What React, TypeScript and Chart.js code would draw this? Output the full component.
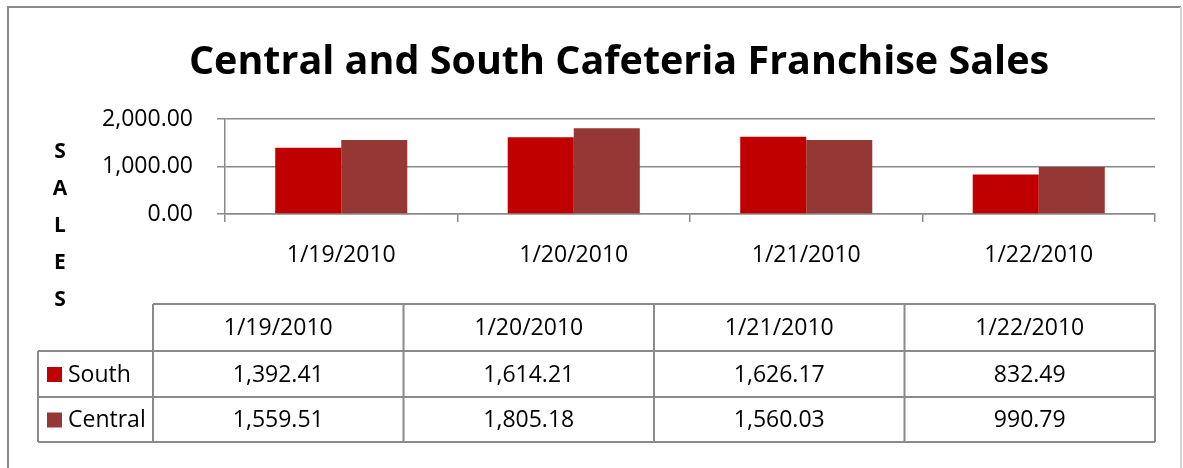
import React, { useEffect, useRef } from 'react';
import { Chart, registerables } from 'chart.js';

Chart.register(...registerables);

const chartTitle = 'Central and South Cafeteria Franchise Sales';
const axisTitleLetters = ['S', 'A', 'L', 'E', 'S'];
const categories = ['1/19/2010', '1/20/2010', '1/21/2010', '1/22/2010'];
const seriesNames = ['South', 'Central'];
const southValues = [1392.41, 1614.21, 1626.17, 832.49];
const centralValues = [1559.51, 1805.18, 1560.03, 990.79];
const yTickValues = [0, 1000, 2000];
const seriesColors = ['#C00000', '#953735'];

const FONT = '"Open Sans", "Noto Sans", sans-serif';
const GRAY = '#8a8a8a';
const fmt = (v: number) =>
  v.toLocaleString('en-US', { minimumFractionDigits: 2, maximumFractionDigits: 2 });

const decorPlugin = {
  id: 'decor',
  afterDraw(chart: any) {
    const ctx = chart.ctx as CanvasRenderingContext2D;
    const area = chart.chartArea;
    ctx.save();

    // chart frame
    ctx.lineWidth = 2;
    ctx.strokeStyle = GRAY;
    ctx.beginPath();
    ctx.moveTo(8, 480);
    ctx.lineTo(8, 7);
    ctx.lineTo(1181, 7);
    ctx.stroke();
    ctx.strokeStyle = '#d4d4d4';
    ctx.beginPath();
    ctx.moveTo(1181, 7);
    ctx.lineTo(1181, 480);
    ctx.stroke();

    // title
    ctx.fillStyle = '#000';
    ctx.textAlign = 'center';
    ctx.textBaseline = 'alphabetic';
    ctx.font = `bold 39.5px ${FONT}`;
    ctx.fillText(chartTitle, 619, 74);

    // vertical axis title
    ctx.font = `bold 21px ${FONT}`;
    ctx.textBaseline = 'middle';
    axisTitleLetters.forEach((ch, i) => ctx.fillText(ch, 60, 152 + i * 37));

    // data table
    const tLeft = 153;
    const tRight = area.right;
    const legLeft = 38;
    const colW = (tRight - tLeft) / categories.length;
    const rows = [304, 351, 397, 442];
    ctx.strokeStyle = GRAY;
    ctx.lineWidth = 2;
    ctx.beginPath();
    ctx.moveTo(tLeft, rows[0]);
    ctx.lineTo(tRight, rows[0]);
    for (let r = 1; r < rows.length; r++) {
      ctx.moveTo(legLeft, rows[r]);
      ctx.lineTo(tRight, rows[r]);
    }
    for (let c = 0; c <= categories.length; c++) {
      const x = tLeft + c * colW;
      ctx.moveTo(x, rows[0]);
      ctx.lineTo(x, rows[rows.length - 1]);
    }
    ctx.moveTo(legLeft, rows[1]);
    ctx.lineTo(legLeft, rows[rows.length - 1]);
    ctx.stroke();

    ctx.font = `23px ${FONT}`;
    ctx.fillStyle = '#000';
    ctx.textAlign = 'center';
    ctx.textBaseline = 'middle';
    categories.forEach((c, i) => {
      ctx.fillText(c, tLeft + (i + 0.5) * colW, (rows[0] + rows[1]) / 2 + 1);
    });
    const seriesData = chart.data.datasets.map((d: any) => d.data as number[]);
    seriesData.forEach((vals: number[], s: number) => {
      const cy = (rows[s + 1] + rows[s + 2]) / 2 + 1;
      vals.forEach((v, i) => {
        ctx.fillText(fmt(v), tLeft + (i + 0.5) * colW, cy);
      });
      ctx.fillStyle = seriesColors[s];
      ctx.fillRect(47, cy - 8, 15, 15);
      ctx.fillStyle = '#000';
      ctx.textAlign = 'left';
      ctx.fillText(seriesNames[s], 68, cy);
      ctx.textAlign = 'center';
    });

    ctx.restore();
  },
};

export default function App() {
  const canvasRef = useRef<HTMLCanvasElement | null>(null);

  useEffect(() => {
    const canvas = canvasRef.current;
    if (!canvas) return;
    const chart = new Chart(canvas, {
      type: 'bar',
      data: {
        labels: categories,
        datasets: [
          {
            label: seriesNames[0],
            data: southValues,
            backgroundColor: seriesColors[0],
            barPercentage: 1,
            categoryPercentage: 0.568,
          },
          {
            label: seriesNames[1],
            data: centralValues,
            backgroundColor: seriesColors[1],
            barPercentage: 1,
            categoryPercentage: 0.568,
          },
        ],
      },
      options: {
        responsive: false,
        animation: false,
        devicePixelRatio: 1,
        layout: { padding: { top: 119, right: 28, bottom: 0, left: 0 } },
        plugins: {
          legend: { display: false },
          title: { display: false },
          tooltip: { enabled: false },
        },
        scales: {
          x: {
            offset: true,
            grid: {
              offset: true,
              drawOnChartArea: false,
              drawTicks: true,
              tickLength: 8,
              color: GRAY,
              lineWidth: 1.5,
            },
            border: { display: true, color: GRAY, width: 1.5 },
            ticks: {
              color: '#000',
              font: { family: FONT, size: 23 },
              padding: 20,
              maxRotation: 0,
            },
            afterFit: (s: any) => {
              s.height = 254;
            },
          },
          y: {
            min: 0,
            max: 2000,
            afterBuildTicks: (s: any) => {
              s.ticks = yTickValues.map((v) => ({ value: v }));
            },
            grid: {
              color: GRAY,
              lineWidth: 1.5,
              drawTicks: true,
              tickLength: 8,
            },
            border: { display: true, color: GRAY, width: 1.5 },
            ticks: {
              color: '#000',
              font: { family: FONT, size: 23 },
              padding: 24,
              callback: (v: any) => fmt(Number(v)),
            },
            afterFit: (s: any) => {
              s.width = 225;
            },
          },
        },
      },
      plugins: [decorPlugin],
    });
    return () => chart.destroy();
  }, []);

  return (
    <div style={{ position: 'fixed', left: 0, top: 0, width: 1183, height: 468, background: '#fff' }}>
      <canvas ref={canvasRef} width={1183} height={468} style={{ display: 'block' }} />
    </div>
  );
}
